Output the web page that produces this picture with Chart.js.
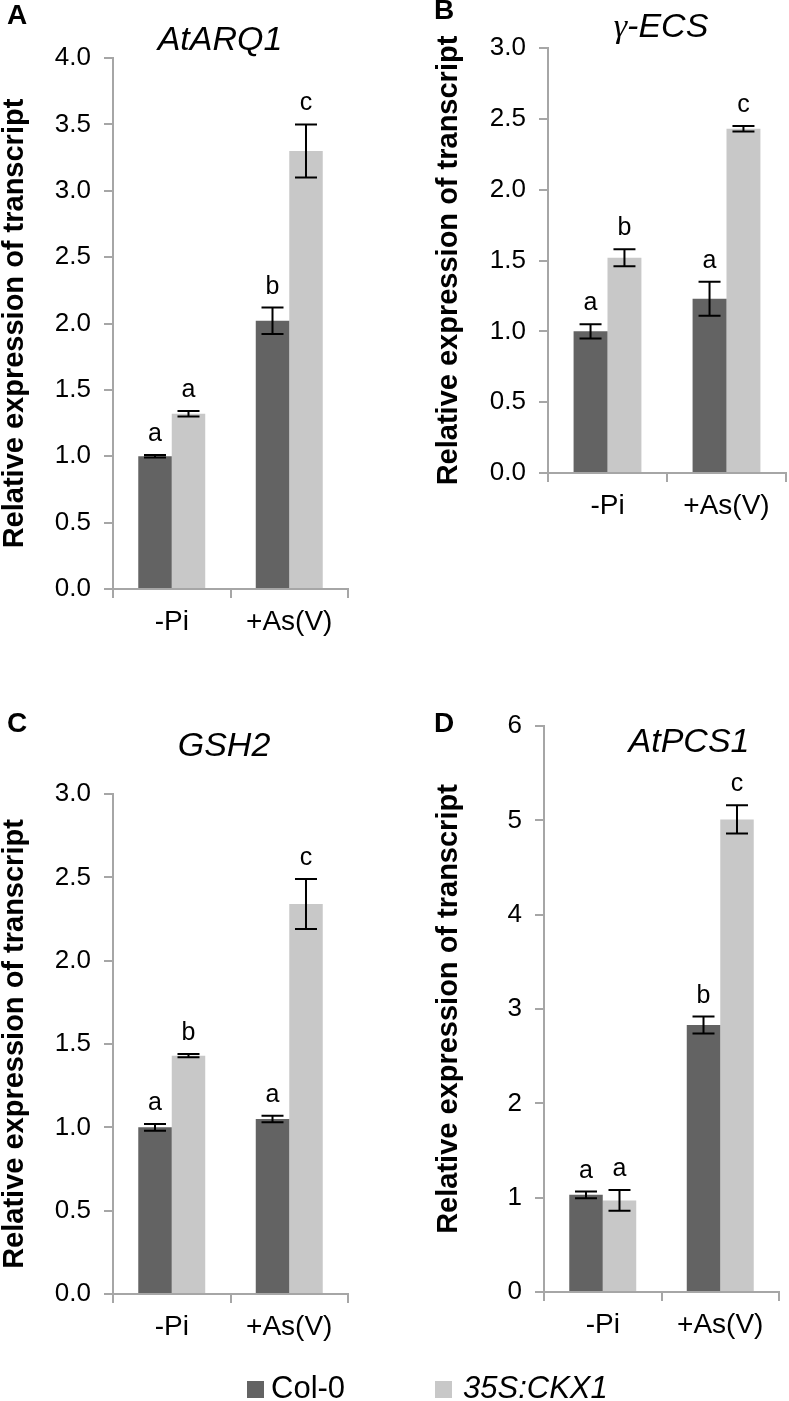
<!DOCTYPE html>
<html lang="en">
<head>
    <meta charset="UTF-8">
    <title>Relative expression of transcript</title>
    <script src="https://cdn.jsdelivr.net/npm/chart.js"></script>
    <style>
        body {
            margin: 0;
            width: 789px;
            height: 1401px;
            overflow: hidden;
            background: #fff;
            font-family: "Liberation Sans", Arial, Helvetica, sans-serif;
            color: #000;
        }
        .panel { position: absolute; }
        .txt { position: absolute; line-height: 1; white-space: nowrap; }
        .letter { font-weight: bold; font-size: 28px; }
        .gene { font-style: italic; font-size: 34px; transform: translateX(-50%); }
        .sq { position: absolute; width: 17px; height: 17px; }
        .leg { font-size: 31px; }
    </style>
</head>
<body>

    <div class="panel" style="left:0; top:0;"><canvas id="chartA" width="395" height="650"></canvas></div>
    <div class="panel" style="left:434px; top:0;"><canvas id="chartB" width="355" height="650"></canvas></div>
    <div class="panel" style="left:0; top:650px;"><canvas id="chartC" width="395" height="751"></canvas></div>
    <div class="panel" style="left:434px; top:650px;"><canvas id="chartD" width="355" height="751"></canvas></div>

    <!-- panel letters + gene names (top = baseline - 0.8465 * font size) -->
    <div class="txt letter" style="left:7px; top:1px;">A</div>
    <div class="txt letter" style="left:434px; top:-4px;">B</div>
    <div class="txt letter" style="left:7px; top:709px;">C</div>
    <div class="txt letter" style="left:434px; top:709px;">D</div>

    <div class="txt gene" style="left:220px; top:21px;">AtARQ1</div>
    <div class="txt gene" style="left:661px; top:8px;"><span style="font-family:'Liberation Serif', 'Times New Roman', serif;">γ</span>-ECS</div>
    <div class="txt gene" style="left:224px; top:727px;">GSH2</div>
    <div class="txt gene" style="left:689px; top:723px;">AtPCS1</div>

    <!-- legend -->
    <div class="sq" style="left:247px; top:1381px; background:#636363;"></div>
    <div class="txt leg" id="legCol" style="left:271px; top:1372px;"></div>
    <div class="sq" style="left:435px; top:1381px; background:#C8C8C8;"></div>
    <div class="txt leg" id="legCkx" style="left:463px; top:1372px; font-style:italic;"></div>

<script>
    // categories / series
    const categories = ['-Pi', '+As(V)'];
    const seriesNames = ['Col-0', '35S:CKX1'];

    // A - AtARQ1
    const arq1Col = [1.00, 2.02];
    const arq1ColErr = [0.01, 0.10];
    const arq1ColSig = ['a', 'b'];
    const arq1Ckx = [1.32, 3.30];
    const arq1CkxErr = [0.02, 0.20];
    const arq1CkxSig = ['a', 'c'];
    const arq1Ticks = ['0.0', '0.5', '1.0', '1.5', '2.0', '2.5', '3.0', '3.5', '4.0'];

    // B - gamma-ECS
    const ecsCol = [1.00, 1.23];
    const ecsColErr = [0.05, 0.12];
    const ecsColSig = ['a', 'a'];
    const ecsCkx = [1.52, 2.43];
    const ecsCkxErr = [0.06, 0.02];
    const ecsCkxSig = ['b', 'c'];
    const ecsTicks = ['0.0', '0.5', '1.0', '1.5', '2.0', '2.5', '3.0'];

    // C - GSH2
    const gsh2Col = [1.00, 1.05];
    const gsh2ColErr = [0.02, 0.02];
    const gsh2ColSig = ['a', 'a'];
    const gsh2Ckx = [1.43, 2.34];
    const gsh2CkxErr = [0.01, 0.15];
    const gsh2CkxSig = ['b', 'c'];
    const gsh2Ticks = ['0.0', '0.5', '1.0', '1.5', '2.0', '2.5', '3.0'];

    // D - AtPCS1
    const pcs1Col = [1.03, 2.83];
    const pcs1ColErr = [0.035, 0.09];
    const pcs1ColSig = ['a', 'b'];
    const pcs1Ckx = [0.97, 5.01];
    const pcs1CkxErr = [0.11, 0.15];
    const pcs1CkxSig = ['a', 'c'];
    const pcs1Ticks = ['0', '1', '2', '3', '4', '5', '6'];

    document.getElementById('legCol').textContent = seriesNames[0];
    document.getElementById('legCkx').textContent = seriesNames[1];

    const AXIS = '#A6A6A6';
    Chart.defaults.font.family = '"Liberation Sans", Arial, Helvetica, sans-serif';
    Chart.defaults.color = '#000';

    // error bars + significance letters
    const errorBars = {
        id: 'errorBars',
        afterDatasetsDraw(chart) {
            const ctx = chart.ctx;
            const y = chart.scales.y;
            ctx.save();
            ctx.strokeStyle = '#000';
            ctx.lineWidth = 2;
            ctx.fillStyle = '#000';
            ctx.font = '25px "Liberation Sans", Arial, sans-serif';
            ctx.textAlign = 'center';
            ctx.textBaseline = 'alphabetic';
            chart.data.datasets.forEach((ds, i) => {
                chart.getDatasetMeta(i).data.forEach((bar, j) => {
                    const top = y.getPixelForValue(ds.data[j] + ds.errors[j]);
                    const bot = y.getPixelForValue(ds.data[j] - ds.errors[j]);
                    ctx.beginPath();
                    ctx.moveTo(bar.x, top); ctx.lineTo(bar.x, bot);
                    ctx.moveTo(bar.x - 11, top); ctx.lineTo(bar.x + 11, top);
                    ctx.moveTo(bar.x - 11, bot); ctx.lineTo(bar.x + 11, bot);
                    ctx.stroke();
                    ctx.fillText(ds.sig[j], bar.x, top - 14);
                });
            });
            ctx.restore();
        }
    };

    function makeChart(id, col, colErr, colSig, ckx, ckxErr, ckxSig, tickLabels, box) {
        return new Chart(document.getElementById(id), {
            type: 'bar',
            data: {
                labels: categories,
                datasets: [
                    { label: seriesNames[0], data: col, errors: colErr, sig: colSig, backgroundColor: '#636363' },
                    { label: seriesNames[1], data: ckx, errors: ckxErr, sig: ckxSig, backgroundColor: '#C8C8C8' }
                ]
            },
            options: {
                responsive: false,
                animation: false,
                devicePixelRatio: 1,
                datasets: { bar: { categoryPercentage: 0.57, barPercentage: 1.0 } },
                layout: { padding: { left: 0, top: box.top, right: box.right, bottom: box.bottom } },
                plugins: { legend: { display: false }, tooltip: { enabled: false } },
                scales: {
                    x: {
                        offset: true,
                        grid: { offset: true, drawOnChartArea: false, tickLength: 9, color: AXIS, lineWidth: 2 },
                        border: { color: AXIS, width: 2 },
                        ticks: { font: { size: 28 }, padding: 7 },
                        afterFit: s => { s.height = 50; }
                    },
                    y: {
                        min: 0,
                        max: parseFloat(tickLabels[tickLabels.length - 1]),
                        afterBuildTicks: s => { s.ticks = tickLabels.map(t => ({ value: parseFloat(t) })); },
                        ticks: { font: { size: 26 }, padding: 13, callback: (v, i) => tickLabels[i] },
                        grid: { drawOnChartArea: false, tickLength: 9, color: AXIS, lineWidth: 2 },
                        border: { color: AXIS, width: 2 },
                        title: {
                            display: true,
                            text: 'Relative expression of transcript',
                            font: { size: 29, weight: 'bold', lineHeight: 1.0 },
                            padding: 0
                        },
                        afterFit: s => { s.width = box.yWidth; }
                    }
                }
            },
            plugins: [errorBars]
        });
    }

    makeChart('chartA', arq1Col, arq1ColErr, arq1ColSig, arq1Ckx, arq1CkxErr, arq1CkxSig, arq1Ticks,
        { yWidth: 113, top: 58, right: 47, bottom: 11 });
    makeChart('chartB', ecsCol, ecsColErr, ecsColSig, ecsCkx, ecsCkxErr, ecsCkxSig, ecsTicks,
        { yWidth: 114, top: 48, right: 3, bottom: 127 });
    makeChart('chartC', gsh2Col, gsh2ColErr, gsh2ColSig, gsh2Ckx, gsh2CkxErr, gsh2CkxSig, gsh2Ticks,
        { yWidth: 113, top: 144, right: 47, bottom: 57 });
    makeChart('chartD', pcs1Col, pcs1ColErr, pcs1ColSig, pcs1Ckx, pcs1CkxErr, pcs1CkxSig, pcs1Ticks,
        { yWidth: 110, top: 76, right: 10, bottom: 59 });
</script>
</body>
</html>
